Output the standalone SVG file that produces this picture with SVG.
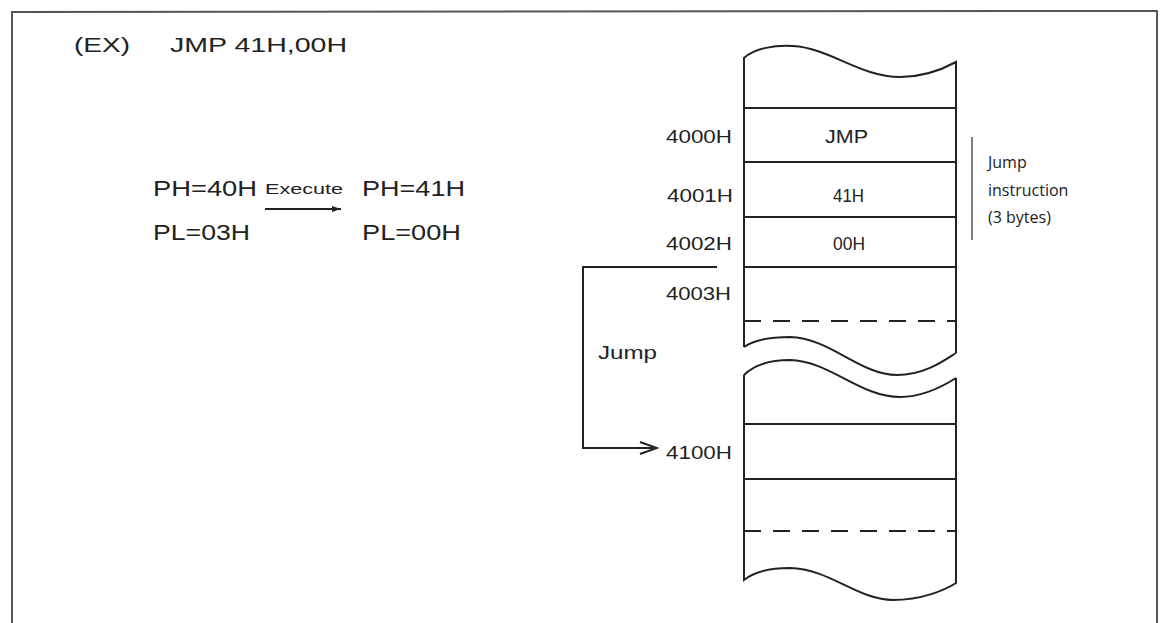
<svg xmlns="http://www.w3.org/2000/svg" width="1162" height="623" viewBox="0 0 1162 623">
<style>
.t{font-family:"Liberation Sans",Arial,sans-serif;fill:#222}
.ln{stroke:#222;stroke-width:2;fill:none}
.dash{stroke:#222;stroke-width:2;fill:none;stroke-dasharray:17,12}
.frame{stroke:#555;stroke-width:2;fill:none}
.note{font-family:"Open Sans","DejaVu Sans",sans-serif;fill:#222;font-size:16px}
</style>
<defs>
<marker id="open" markerWidth="20" markerHeight="14" refX="18" refY="7" orient="auto" markerUnits="userSpaceOnUse">
<path d="M1,1 L18,7 L1,13" fill="none" stroke="#222" stroke-width="2"/>
</marker>
<marker id="small" markerWidth="10" markerHeight="8" refX="9" refY="4" orient="auto" markerUnits="userSpaceOnUse">
<path d="M0,1 L9,4 L0,7 Z" fill="#222"/>
</marker>
</defs>
<rect width="1162" height="623" fill="#fff"/>
<g id="frame">
<path class="frame" d="M12,623 L12,12 L1157,11 L1157,623"/>
</g>
<g id="title">
<text class="t" x="74" y="52" font-size="21" textLength="56" lengthAdjust="spacingAndGlyphs">(EX)</text>
<text class="t" x="170" y="52" font-size="21" textLength="177" lengthAdjust="spacingAndGlyphs">JMP 41H,00H</text>
</g>
<g id="registers">
<text class="t" x="153" y="196" font-size="22" textLength="104" lengthAdjust="spacingAndGlyphs">PH=40H</text>
<text class="t" x="153" y="240" font-size="22" textLength="97" lengthAdjust="spacingAndGlyphs">PL=03H</text>
<text class="t" x="265" y="194" font-size="15" textLength="78" lengthAdjust="spacingAndGlyphs">Execute</text>
<text class="t" x="362" y="196" font-size="22" textLength="103" lengthAdjust="spacingAndGlyphs">PH=41H</text>
<text class="t" x="362" y="240" font-size="22" textLength="99" lengthAdjust="spacingAndGlyphs">PL=00H</text>
</g>
<g id="memory-upper">
<path class="ln" d="M744,347 L744,58 C755,48 775,45 793,46 C830,48 860,77 900,77 C925,77 945,68 956,62 L956,353"/>
<path class="ln" d="M744,347 C755,339 772,337 790,337 C830,338 860,375 897,375 C925,375 945,360 956,353"/>
<line class="ln" x1="744" y1="108" x2="956" y2="108"/>
<line class="ln" x1="744" y1="162" x2="956" y2="162"/>
<line class="ln" x1="744" y1="217" x2="956" y2="217"/>
<line class="ln" x1="744" y1="267" x2="956" y2="267"/>
<line class="dash" x1="744" y1="321" x2="956" y2="321"/>
<text class="t" x="825" y="143" font-size="19" textLength="43" lengthAdjust="spacingAndGlyphs">JMP</text>
<text class="t" x="833" y="202" font-size="19" textLength="31" lengthAdjust="spacingAndGlyphs">41H</text>
<text class="t" x="833" y="250" font-size="19" textLength="32" lengthAdjust="spacingAndGlyphs">00H</text>
</g>
<g id="memory-lower">
<path class="ln" d="M744,375 L744,580 C755,571 772,568 790,568 C830,569 858,600 893,600 C922,600 945,590 956,583 L956,378"/>
<path class="ln" d="M744,375 C755,364 772,360 790,360 C830,361 860,397 900,397 C925,397 945,385 956,378"/>
<line class="ln" x1="744" y1="424" x2="956" y2="424"/>
<line class="ln" x1="744" y1="479" x2="956" y2="479"/>
<line class="dash" x1="744" y1="531" x2="956" y2="531"/>
</g>
<g id="addresses">
<text class="t" x="666" y="143" font-size="19" textLength="66" lengthAdjust="spacingAndGlyphs">4000H</text>
<text class="t" x="667" y="202" font-size="19" textLength="66" lengthAdjust="spacingAndGlyphs">4001H</text>
<text class="t" x="666" y="250" font-size="19" textLength="66" lengthAdjust="spacingAndGlyphs">4002H</text>
<text class="t" x="666" y="300" font-size="19" textLength="65" lengthAdjust="spacingAndGlyphs">4003H</text>
<text class="t" x="666" y="459" font-size="19" textLength="66" lengthAdjust="spacingAndGlyphs">4100H</text>
</g>
<g id="bracket">
<line x1="972" y1="137" x2="972" y2="240" stroke="#555" stroke-width="1.5"/>
<text class="note" x="988" y="168">Jump</text>
<text class="note" x="988" y="196">instruction</text>
<text class="note" x="988" y="223">(3 bytes)</text>
</g>
<g id="connectors">
<polyline class="ln" points="717,267 583,267 583,448 657,448" marker-end="url(#open)"/>
<line class="ln" x1="265" y1="209" x2="341" y2="209" stroke-width="1.5" marker-end="url(#small)"/>
<text class="t" x="598" y="359" font-size="19" textLength="59" lengthAdjust="spacingAndGlyphs">Jump</text>
</g>
</svg>
